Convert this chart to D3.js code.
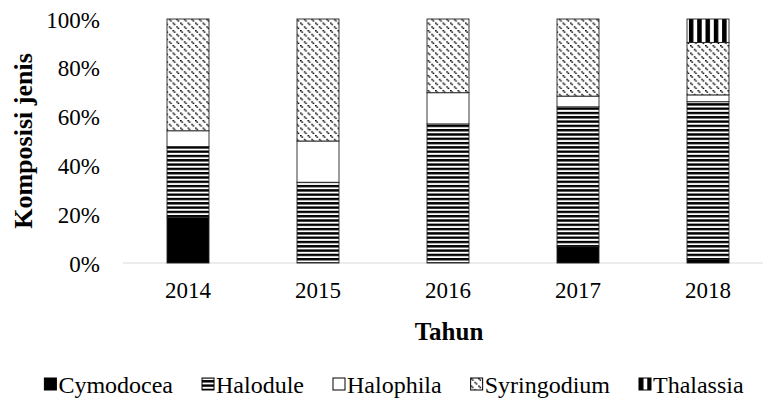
<!DOCTYPE html>
<html lang="en">
<head>
<meta charset="UTF-8">
<title>Komposisi jenis</title>
<script src="https://d3js.org/d3.v7.min.js"></script>
<style>
  body { margin: 0; background: #fff; }
  svg, text { font-family: "Liberation Serif", "Times New Roman", serif; fill: #000; }
</style>
</head>
<body>
<div id="chart"></div>
<script>
// data (share of each species per year)
const years = ['2014', '2015', '2016', '2017', '2018']
const species = ['Cymodocea', 'Halodule', 'Halophila', 'Syringodium', 'Thalassia']
const cymodocea = [0.186, 0, 0, 0.067, 0.015]
const halodule = [0.291, 0.331, 0.570, 0.573, 0.646]
const halophila = [0.065, 0.169, 0.128, 0.044, 0.028]
const syringodium = [0.458, 0.500, 0.302, 0.316, 0.215]
const thalassia = [0, 0, 0, 0, 0.096]
const yTicks = [0, 0.2, 0.4, 0.6, 0.8, 1]

const width = 763, height = 412
const plot = {left: 123, right: 773, top: 19, bottom: 263}
const serif = '"Liberation Serif", "Times New Roman", serif'

let rows = years.map((y, i) => ({
  year: y,
  Cymodocea: cymodocea[i],
  Halodule: halodule[i],
  Halophila: halophila[i],
  Syringodium: syringodium[i],
  Thalassia: thalassia[i]
}))

let svg = d3.select('#chart').append('svg')
  .attr('width', width).attr('height', height)
  .attr('font-family', serif)

/********************
* PATTERNS
*********************/
let defs = svg.append('defs')

// horizontal stripes
let hz = defs.append('pattern').attr('id', 'p-hz')
  .attr('patternUnits', 'userSpaceOnUse').attr('width', 8).attr('height', 4.3)
hz.append('rect').attr('width', 8).attr('height', 4.3).attr('fill', '#fff')
hz.append('rect').attr('width', 8).attr('height', 2.4).attr('fill', '#000')

// dashed downward diagonal
let dg = defs.append('pattern').attr('id', 'p-dg')
  .attr('patternUnits', 'userSpaceOnUse').attr('width', 7.5).attr('height', 7.5)
dg.append('rect').attr('width', 7.5).attr('height', 7.5).attr('fill', '#fff')
;[[0, 0], [1.4, 1.4], [3.8, 3.8], [5.2, 5.2]].forEach(p => {
  dg.append('rect').attr('x', p[0]).attr('y', p[1])
    .attr('width', 1.6).attr('height', 1.4).attr('fill', '#000')
})

// wide vertical stripes
let vt = defs.append('pattern').attr('id', 'p-vt')
  .attr('patternUnits', 'userSpaceOnUse').attr('width', 8.3).attr('height', 8)
vt.append('rect').attr('width', 8.3).attr('height', 8).attr('fill', '#fff')
vt.append('rect').attr('width', 4.5).attr('height', 8).attr('fill', '#000')

const fills = {
  Cymodocea: '#000',
  Halodule: 'url(#p-hz)',
  Halophila: '#fff',
  Syringodium: 'url(#p-dg)',
  Thalassia: 'url(#p-vt)'
}

/********************
* SCALES
*********************/
let x = d3.scaleBand()
  .domain(years)
  .range([plot.left, plot.right])
  .paddingInner(0.677)
  .paddingOuter(0.3385)

let y = d3.scaleLinear()
  .domain([0, 1])
  .range([plot.bottom, plot.top])

// baseline
svg.append('line')
  .attr('x1', plot.left).attr('x2', width)
  .attr('y1', y(0)).attr('y2', y(0))
  .attr('stroke', '#d9d9d9').attr('stroke-width', 1.2)

/********************
* BARS
*********************/
let stacked = d3.stack().keys(species)(rows)

svg.append('g').selectAll('g')
  .data(stacked)
  .join('g')
    .attr('fill', d => fills[d.key])
  .selectAll('rect')
  .data(d => d.filter(s => s[1] - s[0] > 0))
  .join('rect')
    .attr('x', d => x(d.data.year))
    .attr('width', x.bandwidth())
    .attr('y', d => y(d[1]))
    .attr('height', d => y(d[0]) - y(d[1]))
    .attr('stroke', '#222')
    .attr('stroke-width', 0.9)

/********************
* AXES
*********************/
let yAxis = svg.append('g')
  .attr('transform', 'translate(' + (plot.left - 23) + ',0)')
  .call(d3.axisLeft(y).tickValues(yTicks).tickSize(0).tickFormat(d3.format('.0%')))
yAxis.select('.domain').remove()
yAxis.selectAll('text')
  .attr('font-family', serif)
  .attr('font-size', 23)
  .attr('dy', '0.35em')
  .attr('x', 0)

let xAxis = svg.append('g')
  .attr('transform', 'translate(0,' + y(0) + ')')
  .call(d3.axisBottom(x).tickSize(0))
xAxis.select('.domain').remove()
xAxis.selectAll('text')
  .attr('font-family', serif)
  .attr('font-size', 23)
  .attr('y', 19)

svg.append('text')
  .attr('x', 449).attr('y', 340)
  .attr('text-anchor', 'middle')
  .attr('font-family', serif)
  .attr('font-weight', 'bold')
  .attr('font-size', 25)
  .text('Tahun')

svg.append('text')
  .attr('transform', 'translate(32,141) rotate(-90)')
  .attr('text-anchor', 'middle')
  .attr('font-family', serif)
  .attr('font-weight', 'bold')
  .attr('font-size', 26)
  .text('Komposisi jenis')

/********************
* LEGEND
*********************/
let legend = svg.append('g')
let lx = 0
species.forEach(s => {
  let item = legend.append('g').attr('transform', 'translate(' + lx + ',0)')
  item.append('rect')
    .attr('x', 0).attr('y', -15).attr('width', 12).attr('height', 12)
    .attr('fill', fills[s]).attr('stroke', '#000').attr('stroke-width', 1)
  let t = item.append('text')
    .attr('x', 14).attr('y', 0)
    .attr('font-family', serif)
    .attr('font-size', 24)
    .text(s)
  lx += 14 + t.node().getComputedTextLength() + 29
})
let legendW = lx - 29
legend.attr('transform', 'translate(' + (394 - legendW / 2) + ',393)')
</script>
</body>
</html>
